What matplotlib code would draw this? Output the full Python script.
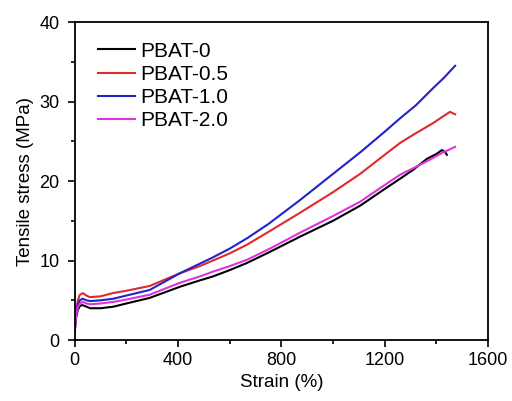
import matplotlib
matplotlib.use("Agg")
import matplotlib.pyplot as plt
from matplotlib.ticker import MultipleLocator

plt.rcParams["font.family"] = ["Liberation Sans", "DejaVu Sans"]

# strain (%) and stress (MPa)
x_pbat0 = [0, 5, 12, 20, 30, 45, 60, 100, 150, 200, 290, 407, 484, 535, 600, 667,
           750, 872, 1000, 1105, 1200, 1260, 1310, 1364, 1400, 1422, 1435, 1441]
y_pbat0 = [1.0, 2.8, 3.8, 4.3, 4.4, 4.2, 4.0, 4.0, 4.2, 4.6, 5.3, 6.7, 7.5, 8.0, 8.8, 9.7,
           11.0, 13.0, 15.0, 16.9, 19.0, 20.3, 21.4, 22.8, 23.4, 23.9, 23.6, 23.3]

x_pbat05 = [0, 5, 12, 20, 31, 45, 58, 100, 147, 200, 290, 407, 484, 535, 600, 667,
            750, 872, 1000, 1105, 1200, 1260, 1320, 1388, 1420, 1453, 1473]
y_pbat05 = [1.3, 3.5, 5.0, 5.7, 5.9, 5.6, 5.4, 5.5, 5.9, 6.2, 6.8, 8.4, 9.3, 10.0, 10.9, 12.0,
            13.6, 16.0, 18.6, 20.9, 23.3, 24.8, 26.0, 27.3, 28.0, 28.7, 28.4]

x_pbat10 = [0, 5, 12, 20, 30, 45, 60, 100, 150, 200, 290, 407, 484, 535, 600, 667,
            750, 872, 1000, 1105, 1200, 1260, 1320, 1388, 1430, 1473]
y_pbat10 = [1.3, 3.3, 4.5, 5.0, 5.2, 5.0, 4.9, 5.0, 5.2, 5.6, 6.3, 8.4, 9.6, 10.4, 11.5, 12.8,
            14.6, 17.6, 20.9, 23.6, 26.2, 27.9, 29.5, 31.7, 33.0, 34.5]

x_pbat20 = [0, 5, 12, 20, 30, 45, 60, 100, 150, 200, 290, 407, 484, 535, 600, 667,
            750, 872, 1000, 1105, 1200, 1260, 1310, 1364, 1420, 1473]
y_pbat20 = [1.2, 3.0, 4.1, 4.6, 4.8, 4.6, 4.5, 4.6, 4.8, 5.1, 5.7, 7.2, 8.0, 8.6, 9.3, 10.1,
            11.4, 13.5, 15.6, 17.4, 19.5, 20.8, 21.6, 22.5, 23.5, 24.3]

fig = plt.figure(figsize=(5.12, 4.01), dpi=100)
ax = fig.add_axes([0.146, 0.152, 0.807, 0.793])

ax.plot(x_pbat0, y_pbat0, color="black", lw=1.5, label="PBAT-0")
ax.plot(x_pbat05, y_pbat05, color="#e02a2a", lw=1.5, label="PBAT-0.5")
ax.plot(x_pbat10, y_pbat10, color="#2222cc", lw=1.5, label="PBAT-1.0")
ax.plot(x_pbat20, y_pbat20, color="#dd33dd", lw=1.5, label="PBAT-2.0")

ax.set_xlim(0, 1600)
ax.set_ylim(0, 40)
ax.xaxis.set_major_locator(MultipleLocator(400))
ax.xaxis.set_minor_locator(MultipleLocator(200))
ax.yaxis.set_major_locator(MultipleLocator(10))
ax.yaxis.set_minor_locator(MultipleLocator(5))
ax.tick_params(which="both", direction="out", width=1.2, labelsize=13)
ax.tick_params(which="major", length=5)
ax.tick_params(which="minor", length=3)
ax.tick_params(axis="y", which="major", pad=6)
for s in ax.spines.values():
    s.set_linewidth(1.3)

ax.set_xlabel("Strain (%)", fontsize=13.5)
ax.set_ylabel("Tensile stress (MPa)", fontsize=13.5)

ax.legend(loc="upper left", bbox_to_anchor=(0.056, 0.938), frameon=False,
          fontsize=15, handlelength=1.8, handletextpad=0.25, labelspacing=0.2,
          borderpad=0, borderaxespad=0)

fig.savefig("out.png", dpi=100)
